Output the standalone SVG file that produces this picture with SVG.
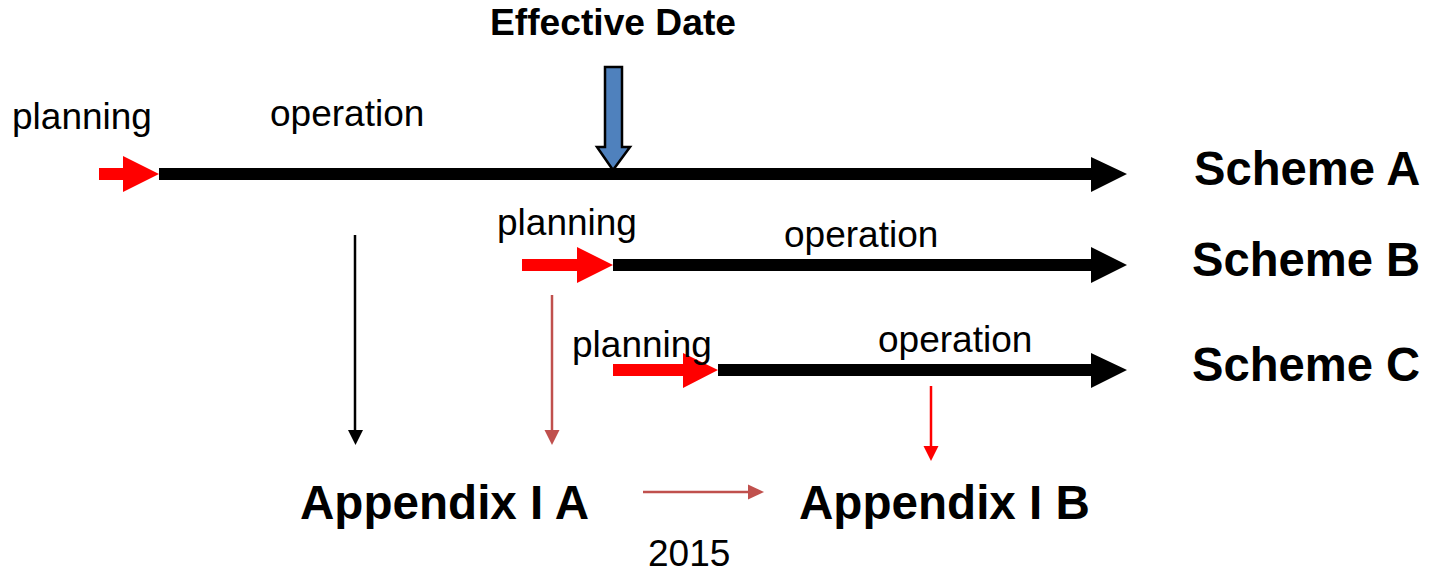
<svg xmlns="http://www.w3.org/2000/svg" width="1441" height="572" viewBox="0 0 1441 572">
<style>
.t{font-family:"Liberation Sans",Arial,sans-serif;font-size:37px;fill:#000}
.b{font-family:"Liberation Sans",Arial,sans-serif;font-weight:bold;fill:#000}
.red{fill:#FF0000}
.blk{fill:#000}
</style>
<rect width="1441" height="572" fill="#fff"/>
<g id="scheme-a">
<polygon class="red" points="99,168 123,168 123,156 159,174 123,192 123,180 99,180"/>
<polygon class="blk" points="159,168 1091,168 1091,157 1127,174 1091,192 1091,180 159,180"/>
<text class="t" x="12" y="129">planning</text>
<text class="t" x="270" y="126">operation</text>
<text class="b" x="1194" y="185" font-size="47.2">Scheme A</text>
</g>
<g id="scheme-b">
<polygon class="red" points="522,259 577,259 577,247 613,265 577,283 577,271 522,271"/>
<polygon class="blk" points="613,259 1091,259 1091,247 1127,265 1091,283 1091,271 613,271"/>
<text class="t" x="497" y="235">planning</text>
<text class="t" x="784" y="247">operation</text>
<text class="b" x="1192" y="276" font-size="47.2">Scheme B</text>
</g>
<g id="scheme-c">
<polygon class="red" points="613,364 683,364 683,353 718,370 683,388 683,376 613,376"/>
<polygon class="blk" points="718,364 1091,364 1091,353 1127,370 1091,388 1091,376 718,376"/>
<text class="t" x="572" y="357">planning</text>
<text class="t" x="878" y="352">operation</text>
<text class="b" x="1192" y="381" font-size="47.2">Scheme C</text>
</g>
<g id="effective-date">
<text class="b" x="613" y="35" font-size="37.2" text-anchor="middle">Effective Date</text>
<polygon points="605,67 622,67 622,147 630,147 613,170 597,147 605,147" fill="#4F81BD" stroke="#000" stroke-width="2.5" stroke-linejoin="miter"/>
</g>
<g id="appendix-a">
<text class="b" x="300" y="519" font-size="47.6">Appendix I A</text>
</g>
<g id="appendix-b">
<text class="b" x="799" y="519" font-size="47.6">Appendix I B</text>
</g>
<g id="year">
<text class="t" x="648" y="566">2015</text>
</g>
<g id="connectors" stroke-width="2.5" fill="none">
<line x1="355" y1="235" x2="355" y2="432" stroke="#000"/>
<polygon points="348,430 363,430 355.5,445" fill="#000" stroke="none"/>
<line x1="552" y1="295" x2="552" y2="432" stroke="#C0504D"/>
<polygon points="544.5,430 559.5,430 552,445" fill="#C0504D" stroke="none"/>
<line x1="931" y1="386" x2="931" y2="448" stroke="#FF0000"/>
<polygon points="923.5,446 938.5,446 931,461" fill="#FF0000" stroke="none"/>
<line x1="643" y1="492" x2="750" y2="492" stroke="#C0504D"/>
<polygon points="748,484.5 748,499.5 764,492" fill="#C0504D" stroke="none"/>
</g>
</svg>
